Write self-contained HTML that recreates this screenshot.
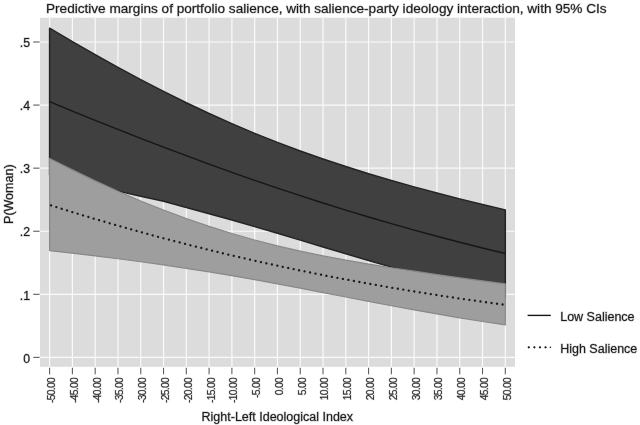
<!DOCTYPE html>
<html><head><meta charset="utf-8"><title>Predictive margins</title>
<style>html,body{margin:0;padding:0;background:#fff;width:640px;height:425px;overflow:hidden}svg{display:block}</style>
</head><body><div id="w">
<svg width="640" height="425" viewBox="0 0 640 425">
<rect x="0" y="0" width="640" height="425" fill="#ffffff"/>
<rect x="40" y="17.7" width="475" height="349.1" fill="#dcdcdc"/>
<g stroke="#fafafa" stroke-width="1.2">
<line x1="49.60" y1="17.7" x2="49.60" y2="366.8"/>
<line x1="72.39" y1="17.7" x2="72.39" y2="366.8"/>
<line x1="95.17" y1="17.7" x2="95.17" y2="366.8"/>
<line x1="117.96" y1="17.7" x2="117.96" y2="366.8"/>
<line x1="140.74" y1="17.7" x2="140.74" y2="366.8"/>
<line x1="163.53" y1="17.7" x2="163.53" y2="366.8"/>
<line x1="186.31" y1="17.7" x2="186.31" y2="366.8"/>
<line x1="209.09" y1="17.7" x2="209.09" y2="366.8"/>
<line x1="231.88" y1="17.7" x2="231.88" y2="366.8"/>
<line x1="254.66" y1="17.7" x2="254.66" y2="366.8"/>
<line x1="277.45" y1="17.7" x2="277.45" y2="366.8"/>
<line x1="300.24" y1="17.7" x2="300.24" y2="366.8"/>
<line x1="323.02" y1="17.7" x2="323.02" y2="366.8"/>
<line x1="345.81" y1="17.7" x2="345.81" y2="366.8"/>
<line x1="368.59" y1="17.7" x2="368.59" y2="366.8"/>
<line x1="391.38" y1="17.7" x2="391.38" y2="366.8"/>
<line x1="414.16" y1="17.7" x2="414.16" y2="366.8"/>
<line x1="436.95" y1="17.7" x2="436.95" y2="366.8"/>
<line x1="459.73" y1="17.7" x2="459.73" y2="366.8"/>
<line x1="482.52" y1="17.7" x2="482.52" y2="366.8"/>
<line x1="505.30" y1="17.7" x2="505.30" y2="366.8"/>
<line x1="40" y1="357.40" x2="515" y2="357.40"/>
<line x1="40" y1="294.32" x2="515" y2="294.32"/>
<line x1="40" y1="231.24" x2="515" y2="231.24"/>
<line x1="40" y1="168.16" x2="515" y2="168.16"/>
<line x1="40" y1="105.08" x2="515" y2="105.08"/>
<line x1="40" y1="42.00" x2="515" y2="42.00"/>
</g>
<polygon points="49.60,28.22 72.39,41.60 95.17,54.67 117.96,67.36 140.74,79.63 163.53,91.43 186.31,102.73 209.09,113.49 231.88,123.69 254.66,133.33 277.45,142.42 300.24,150.97 323.02,159.01 345.81,166.58 368.59,173.73 391.38,180.48 414.16,186.90 436.95,193.01 459.73,198.86 482.52,204.47 505.30,209.87 505.30,297.53 482.52,291.89 459.73,286.00 436.95,279.90 414.16,273.60 391.38,267.14 368.59,260.56 345.81,253.80 323.02,246.94 300.24,240.10 277.45,233.32 254.66,226.64 231.88,220.08 209.09,213.67 186.31,207.42 163.53,201.33 140.74,196.15 117.96,191.11 95.17,185.65 72.39,180.28 49.60,174.97" fill="#404040" stroke="#242424" stroke-width="1.5" stroke-linejoin="round"/>
<polygon points="49.60,158.43 72.39,169.91 95.17,180.84 117.96,191.19 140.74,200.94 163.53,210.06 186.31,218.54 209.09,226.36 231.88,233.52 254.66,240.03 277.45,245.93 300.24,251.15 323.02,255.88 345.81,260.18 368.59,264.12 391.38,267.78 414.16,271.19 436.95,274.58 459.73,277.82 482.52,280.92 505.30,283.90 505.30,324.92 482.52,321.47 459.73,317.81 436.95,313.96 414.16,309.92 391.38,305.73 368.59,301.41 345.81,297.00 323.02,292.56 300.24,288.15 277.45,283.82 254.66,279.64 231.88,275.65 209.09,271.87 186.31,268.31 163.53,264.95 140.74,261.78 117.96,258.78 95.17,255.93 72.39,253.19 49.60,250.55" fill="#9e9e9e" stroke="#888888" stroke-width="1.2" stroke-linejoin="round"/>
<polyline points="49.60,101.67 72.39,111.04 95.17,120.28 117.96,129.39 140.74,138.33 163.53,147.11 186.31,155.71 209.09,164.12 231.88,172.33 254.66,180.34 277.45,188.12 300.24,195.69 323.02,203.03 345.81,210.15 368.59,217.03 391.38,223.68 414.16,230.10 436.95,236.28 459.73,242.23 482.52,247.95 505.30,253.45" fill="none" stroke="#161616" stroke-width="1.4"/>
<polyline points="49.60,205.03 72.39,212.15 95.17,219.04 117.96,225.69 140.74,232.11 163.53,238.29 186.31,244.23 209.09,249.94 231.88,255.42 254.66,260.67 277.45,265.70 300.24,270.51 323.02,275.10 345.81,279.49 368.59,283.68 391.38,287.67 414.16,291.46 436.95,295.07 459.73,298.51 482.52,301.77 505.30,304.86" fill="none" stroke="#1a1a1a" stroke-width="2.3" stroke-dasharray="0.01 5.567" stroke-dashoffset="4.112" stroke-linecap="round"/>
<g stroke="#5e5e5e" stroke-width="1.1">
<line x1="33.2" y1="357.40" x2="39.6" y2="357.40"/>
<line x1="33.2" y1="294.32" x2="39.6" y2="294.32"/>
<line x1="33.2" y1="231.24" x2="39.6" y2="231.24"/>
<line x1="33.2" y1="168.16" x2="39.6" y2="168.16"/>
<line x1="33.2" y1="105.08" x2="39.6" y2="105.08"/>
<line x1="33.2" y1="42.00" x2="39.6" y2="42.00"/>
<line x1="49.60" y1="367.8" x2="49.60" y2="374.3"/>
<line x1="72.39" y1="367.8" x2="72.39" y2="374.3"/>
<line x1="95.17" y1="367.8" x2="95.17" y2="374.3"/>
<line x1="117.96" y1="367.8" x2="117.96" y2="374.3"/>
<line x1="140.74" y1="367.8" x2="140.74" y2="374.3"/>
<line x1="163.53" y1="367.8" x2="163.53" y2="374.3"/>
<line x1="186.31" y1="367.8" x2="186.31" y2="374.3"/>
<line x1="209.09" y1="367.8" x2="209.09" y2="374.3"/>
<line x1="231.88" y1="367.8" x2="231.88" y2="374.3"/>
<line x1="254.66" y1="367.8" x2="254.66" y2="374.3"/>
<line x1="277.45" y1="367.8" x2="277.45" y2="374.3"/>
<line x1="300.24" y1="367.8" x2="300.24" y2="374.3"/>
<line x1="323.02" y1="367.8" x2="323.02" y2="374.3"/>
<line x1="345.81" y1="367.8" x2="345.81" y2="374.3"/>
<line x1="368.59" y1="367.8" x2="368.59" y2="374.3"/>
<line x1="391.38" y1="367.8" x2="391.38" y2="374.3"/>
<line x1="414.16" y1="367.8" x2="414.16" y2="374.3"/>
<line x1="436.95" y1="367.8" x2="436.95" y2="374.3"/>
<line x1="459.73" y1="367.8" x2="459.73" y2="374.3"/>
<line x1="482.52" y1="367.8" x2="482.52" y2="374.3"/>
<line x1="505.30" y1="367.8" x2="505.30" y2="374.3"/>
</g>
<g font-family="Liberation Sans, Arial, sans-serif" fill="#1a1a1a" stroke="#1a1a1a" stroke-width="1" stroke-opacity="0.3" paint-order="stroke">
<text x="46" y="13.2" font-size="13.6">Predictive margins of portfolio salience, with salience-party ideology interaction, with 95% CIs</text>
<g font-size="12.3" text-anchor="end">
<text x="30" y="362.60">0</text>
<text x="30" y="299.52">.1</text>
<text x="30" y="236.44">.2</text>
<text x="30" y="173.36">.3</text>
<text x="30" y="110.28">.4</text>
<text x="30" y="47.20">.5</text>
</g>
<text transform="translate(12.5,194.2) rotate(-90)" font-size="12.5" text-anchor="middle">P(Woman)</text>
<g font-size="10.4" text-anchor="end" letter-spacing="-0.7" stroke-opacity="0.2" fill="#2a2a2a">
<text transform="translate(55.00,377.8) rotate(-90)">-50.00</text>
<text transform="translate(77.79,377.8) rotate(-90)">-45.00</text>
<text transform="translate(100.57,377.8) rotate(-90)">-40.00</text>
<text transform="translate(123.36,377.8) rotate(-90)">-35.00</text>
<text transform="translate(146.14,377.8) rotate(-90)">-30.00</text>
<text transform="translate(168.93,377.8) rotate(-90)">-25.00</text>
<text transform="translate(191.71,377.8) rotate(-90)">-20.00</text>
<text transform="translate(214.50,377.8) rotate(-90)">-15.00</text>
<text transform="translate(237.28,377.8) rotate(-90)">-10.00</text>
<text transform="translate(260.06,377.8) rotate(-90)">-5.00</text>
<text transform="translate(282.85,377.8) rotate(-90)">0.00</text>
<text transform="translate(305.63,377.8) rotate(-90)">5.00</text>
<text transform="translate(328.42,377.8) rotate(-90)">10.00</text>
<text transform="translate(351.20,377.8) rotate(-90)">15.00</text>
<text transform="translate(373.99,377.8) rotate(-90)">20.00</text>
<text transform="translate(396.77,377.8) rotate(-90)">25.00</text>
<text transform="translate(419.56,377.8) rotate(-90)">30.00</text>
<text transform="translate(442.35,377.8) rotate(-90)">35.00</text>
<text transform="translate(465.13,377.8) rotate(-90)">40.00</text>
<text transform="translate(487.92,377.8) rotate(-90)">45.00</text>
<text transform="translate(510.70,377.8) rotate(-90)">50.00</text>
</g>
<text x="277.3" y="420.8" font-size="12.5" text-anchor="middle">Right-Left Ideological Index</text>
<text x="560.2" y="321.1" font-size="12.5">Low Salience</text>
<text x="560.2" y="352.7" font-size="12.5">High Salience</text>
</g>
<line x1="527.6" y1="315.4" x2="550.8" y2="315.4" stroke="#161616" stroke-width="1.4"/>
<line x1="527.6" y1="347.3" x2="547" y2="347.3" stroke="#1a1a1a" stroke-width="2.3" stroke-dasharray="0.01 5.567" stroke-dashoffset="4.377" stroke-linecap="round"/>
<circle cx="550.4" cy="347.3" r="0.8" fill="#1a1a1a"/>
</svg>
</div></body></html>
